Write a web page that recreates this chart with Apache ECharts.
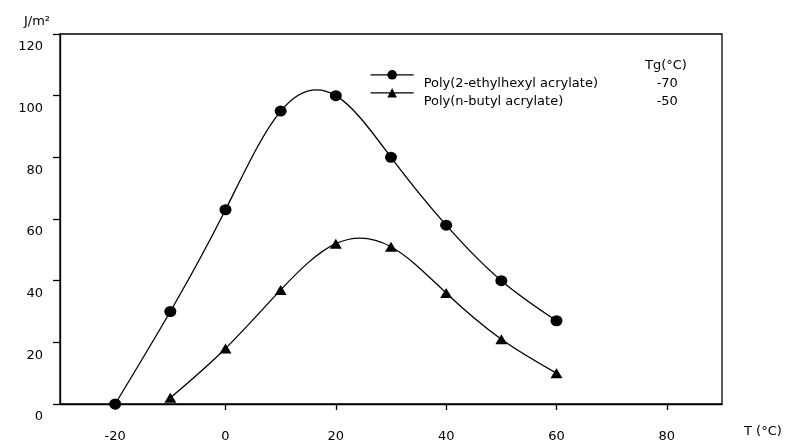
<!DOCTYPE html>
<html>
<head>
<meta charset="utf-8">
<script src="https://cdn.jsdelivr.net/npm/echarts@6/dist/echarts.min.js"></script>
<style>
  html, body { margin: 0; padding: 0; background: #fff; }
  #chart { width: 797px; height: 446px; }
</style>
</head>
<body>
<div id="chart"></div>
<script>
// Tack energy versus test temperature for two polyacrylates
const tempsEHA = [-20, -10, 0, 10, 20, 30, 40, 50, 60];
const tackEHA = [0, 30, 63, 95, 100, 80, 58, 40, 27];
const tempsBA = [-10, 0, 10, 20, 30, 40, 50, 60];
const tackBA = [2, 18, 37, 52, 51, 36, 21, 10];
const seriesNames = ['Poly(2-ethylhexyl acrylate)', 'Poly(n-butyl acrylate)'];
const glassTemps = ['-70', '-50'];
const xTickValues = [-20, 0, 20, 40, 60, 80];

const FONT = 'DejaVu Sans';
const BLACK = '#000';
const LINE_W = 1.3;

function pairs(xs, ys) {
  return xs.map((x, i) => [x, ys[i]]);
}

// Knot slopes of a natural cubic spline through pixel points (x increasing).
function splineSlopes(pts) {
  const n = pts.length;
  const h = [], M = new Array(n).fill(0);
  for (let i = 0; i < n - 1; i++) h.push(pts[i + 1][0] - pts[i][0]);
  if (n > 2) {
    const a = [], b = [], c = [], d = [];
    for (let i = 1; i < n - 1; i++) {
      a.push(h[i - 1]);
      b.push(2 * (h[i - 1] + h[i]));
      c.push(h[i]);
      d.push(6 * ((pts[i + 1][1] - pts[i][1]) / h[i] - (pts[i][1] - pts[i - 1][1]) / h[i - 1]));
    }
    const m = b.length;
    for (let i = 1; i < m; i++) {
      const w = a[i] / b[i - 1];
      b[i] -= w * c[i - 1];
      d[i] -= w * d[i - 1];
    }
    const sol = new Array(m);
    sol[m - 1] = d[m - 1] / b[m - 1];
    for (let i = m - 2; i >= 0; i--) sol[i] = (d[i] - c[i] * sol[i + 1]) / b[i];
    for (let i = 0; i < m; i++) M[i + 1] = sol[i];
  }
  const s = [];
  for (let i = 0; i < n - 1; i++) {
    s.push((pts[i + 1][1] - pts[i][1]) / h[i] - h[i] * (2 * M[i] + M[i + 1]) / 6);
  }
  const k = n - 1;
  s.push((pts[k][1] - pts[k - 1][1]) / h[k - 1] + h[k - 1] * (M[k - 1] + 2 * M[k]) / 6);
  return s;
}

// Each data item draws the spline piece from itself to the next point.
function splineRenderer(xs, ys) {
  return function (params, api) {
    const i = params.dataIndex;
    if (i >= xs.length - 1) return null;
    const pts = xs.map((x, k) => api.coord([x, ys[k]]));
    const s = splineSlopes(pts);
    const p0 = pts[i], p1 = pts[i + 1];
    const dx = (p1[0] - p0[0]) / 3;
    return {
      type: 'bezierCurve',
      shape: {
        x1: p0[0], y1: p0[1], x2: p1[0], y2: p1[1],
        cpx1: p0[0] + dx, cpy1: p0[1] + s[i] * dx,
        cpx2: p1[0] - dx, cpy2: p1[1] - s[i + 1] * dx
      },
      style: { stroke: BLACK, lineWidth: LINE_W, fill: 'none' }
    };
  };
}

function legendFor(idx, top) {
  return {
    data: [seriesNames[idx]],
    left: 370,
    top: top,
    padding: 0,
    orient: 'vertical',
    itemWidth: 43,
    itemHeight: 12,
    selectedMode: false,
    lineStyle: { color: BLACK, width: LINE_W, opacity: 1, type: 'solid' },
    formatter: name => '{n|' + name + '}{v|' + glassTemps[idx] + '}',
    textStyle: {
      fontFamily: FONT, fontSize: 13, color: BLACK,
      rich: {
        n: { fontFamily: FONT, fontSize: 13, color: BLACK, width: 233, padding: [18, 0, 0, 5] },
        v: { fontFamily: FONT, fontSize: 13, color: BLACK, padding: [18, 0, 0, 0] }
      }
    }
  };
}

const chart = echarts.init(document.getElementById('chart'), null, { renderer: 'canvas' });

chart.setOption({
  animation: false,
  backgroundColor: '#fff',
  title: {
    text: 'Tg(°C)',
    left: 645,
    top: 59,
    padding: 0,
    textStyle: { fontFamily: FONT, fontSize: 13, fontWeight: 'normal', color: BLACK }
  },
  legend: [legendFor(0, 70), legendFor(1, 88)],
  grid: {
    left: 60, right: 75, top: 34, bottom: 42,
    show: true, borderColor: BLACK, borderWidth: LINE_W, backgroundColor: 'transparent'
  },
  xAxis: {
    type: 'value',
    min: -30,
    max: 90,
    name: '{a|T (°C)}',
    nameLocation: 'end',
    nameGap: 22,
    nameTextStyle: {
      align: 'left', verticalAlign: 'middle',
      rich: { a: { fontFamily: FONT, fontSize: 13, color: BLACK, padding: [56, 0, 0, 0] } }
    },
    axisLine: { show: true, lineStyle: { color: BLACK, width: LINE_W } },
    axisTick: { show: true, length: 6, customValues: xTickValues, lineStyle: { color: BLACK, width: LINE_W } },
    axisLabel: { customValues: xTickValues, margin: 26, fontFamily: FONT, fontSize: 13, color: BLACK },
    splitLine: { show: false }
  },
  yAxis: {
    type: 'value',
    min: 0,
    max: 120,
    interval: 20,
    name: 'J/m²',
    nameLocation: 'end',
    nameGap: 6,
    nameTextStyle: { fontFamily: FONT, fontSize: 13, color: BLACK, align: 'right', padding: [0, 10, 0, 0] },
    axisLine: { show: true, onZero: false, lineStyle: { color: BLACK, width: LINE_W } },
    axisTick: { show: true, length: 7, lineStyle: { color: BLACK, width: LINE_W } },
    axisLabel: {
      margin: 17,
      formatter: v => '{a|' + v + '}',
      rich: { a: { fontFamily: FONT, fontSize: 13, color: BLACK, padding: [26, 0, 0, 0] } }
    },
    splitLine: { show: false }
  },
  series: [
    {
      type: 'custom',
      data: pairs(tempsEHA, tackEHA),
      renderItem: splineRenderer(tempsEHA, tackEHA),
      silent: true,
      z: 1
    },
    {
      type: 'custom',
      data: pairs(tempsBA, tackBA),
      renderItem: splineRenderer(tempsBA, tackBA),
      silent: true,
      z: 1
    },
    {
      name: seriesNames[0],
      type: 'line',
      data: pairs(tempsEHA, tackEHA),
      symbol: 'circle',
      symbolSize: [12, 11],
      clip: false,
      z: 3,
      itemStyle: { color: BLACK },
      lineStyle: { color: BLACK, width: LINE_W, opacity: 0 }
    },
    {
      name: seriesNames[1],
      type: 'line',
      data: pairs(tempsBA, tackBA),
      symbol: 'triangle',
      symbolSize: [12, 10],
      clip: false,
      z: 3,
      itemStyle: { color: BLACK },
      lineStyle: { color: BLACK, width: LINE_W, opacity: 0 }
    }
  ]
});
</script>
</body>
</html>
